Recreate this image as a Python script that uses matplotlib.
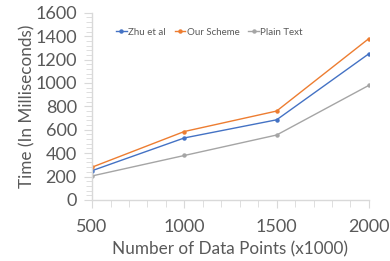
import matplotlib
matplotlib.use("Agg")
import matplotlib.pyplot as plt
from matplotlib.ticker import MultipleLocator

# values
points = [500, 1000, 1500, 2000]
zhu = [250, 530, 685, 1250]
ours = [280, 585, 760, 1380]
plain = [205, 380, 555, 980]

plt.rcParams['font.family'] = ['Lato', 'DejaVu Sans']
txt = '#595959'
grid = '#D9D9D9'

fig = plt.figure(figsize=(3.9, 2.61), dpi=100)
ax = fig.add_axes([0.236, 0.234, 0.71, 0.717])

ax.plot(points, zhu, color='#4472C4', lw=1, marker='o', ms=2.2, label='Zhu et al')
ax.plot(points, ours, color='#ED7D31', lw=1, marker='o', ms=2.2, label='Our Scheme')
ax.plot(points, plain, color='#A5A5A5', lw=1, marker='o', ms=2.2, label='Plain Text')

ax.set_xlim(500, 2000)
ax.set_ylim(0, 1600)
ax.xaxis.set_major_locator(MultipleLocator(500))
ax.xaxis.set_minor_locator(MultipleLocator(100))
ax.yaxis.set_major_locator(MultipleLocator(200))
ax.yaxis.set_minor_locator(MultipleLocator(40))

for s in ['top', 'right']:
    ax.spines[s].set_visible(False)
for s in ['left', 'bottom']:
    ax.spines[s].set_color(grid)
    ax.spines[s].set_linewidth(1)

ax.tick_params(axis='both', which='both', color=grid, labelcolor=txt, labelsize=13)
ax.tick_params(axis='y', which='major', length=6, pad=5)
ax.tick_params(axis='y', which='minor', length=4)
ax.tick_params(axis='x', which='major', length=6, pad=8)
ax.tick_params(axis='x', which='minor', length=5)

ax.set_xlabel('Number of Data Points (x1000)', color=txt, fontsize=12.3, labelpad=4)
ax.set_ylabel('Time (In Milliseconds)', color=txt, fontsize=12.3, labelpad=0)

leg = ax.legend(loc='upper left', bbox_to_anchor=(0.087, 0.92), ncol=3, frameon=False,
                fontsize=7, handlelength=1.1, handletextpad=0.15, columnspacing=0.9,
                borderpad=0, borderaxespad=0, labelcolor=txt)

fig.savefig('out.png', dpi=100)
